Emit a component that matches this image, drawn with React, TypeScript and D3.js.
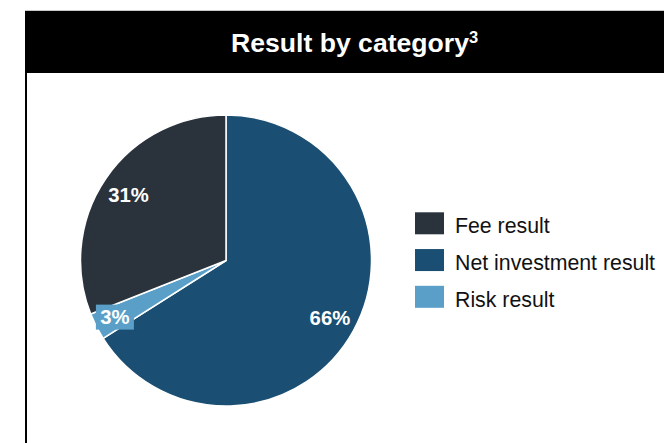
import React from "react";
import * as d3 from "d3";

const categories = ["Net investment result", "Risk result", "Fee result"];
const values = [66, 3, 31];
const labels = ["66%", "3%", "31%"];
const colors = ["#1a4e72", "#5a9fc8", "#2a323c"];
const legendOrder = ["Fee result", "Net investment result", "Risk result"];

const FONT = "'Liberation Sans', Arial, Helvetica, sans-serif";

export default function App() {
  const W = 664, H = 443;
  const cx = 226, cy = 260.5, r = 145.5;
  const pie = d3.pie<number>().sort(null).startAngle(0).endAngle(2 * Math.PI)(values);
  const arc = d3.arc<d3.PieArcDatum<number>>().innerRadius(0).outerRadius(r);
  const colorOf = d3.scaleOrdinal<string, string>().domain(categories).range(colors);
  const legendY = d3.scalePoint<string>().domain(legendOrder).range([223.3, 296.8]);
  const labelR = [0.815, 0.857, 0.81];

  return (
    <svg width={W} height={H} style={{ position: "absolute", left: 0, top: 0, fontFamily: FONT }}>
      <rect x={0} y={0} width={W} height={H} fill="#fff" />
      <rect x={25} y={10} width={W - 25} height={1} fill="#c8c8c8" />
      <rect x={25} y={11} width={W - 25} height={62} fill="#000" />
      <rect x={25} y={11} width={2} height={H - 11} fill="#000" />
      <text x={231} y={52} fill="#fff" fontSize={26.6} fontWeight="bold" style={{ fontFamily: FONT }}>
        Result by category
        <tspan fontSize={16.5} dy={-9.5}>3</tspan>
      </text>
      <g transform={`translate(${cx},${cy})`}>
        {pie.map((d, i) => (
          <path key={i} d={arc(d) || ""} fill={colorOf(categories[i])} stroke="#fff" strokeWidth={1.5} strokeLinejoin="round" />
        ))}
        {pie.map((d, i) => {
          const a = (d.startAngle + d.endAngle) / 2;
          const lx = Math.sin(a) * r * labelR[i];
          const ly = -Math.cos(a) * r * labelR[i];
          return (
            <g key={"l" + i} transform={`translate(${lx},${ly})`}>
              {categories[i] === "Risk result" && (
                <rect x={-19} y={-12.5} width={38} height={25} fill={colorOf(categories[i])} />
              )}
              <text textAnchor="middle" dy={7.3} fill="#fff" fontSize={20.3} fontWeight="bold" style={{ fontFamily: FONT }}>
                {labels[i]}
              </text>
            </g>
          );
        })}
      </g>
      {legendOrder.map((c) => {
        const y = legendY(c) as number;
        return (
          <g key={c}>
            <rect x={415} y={y - 11} width={29} height={22} fill={colorOf(c)} />
            <text x={455} y={y + 10} fontSize={21.3} fill="#111" style={{ fontFamily: FONT }}>
              {c}
            </text>
          </g>
        );
      })}
    </svg>
  );
}
